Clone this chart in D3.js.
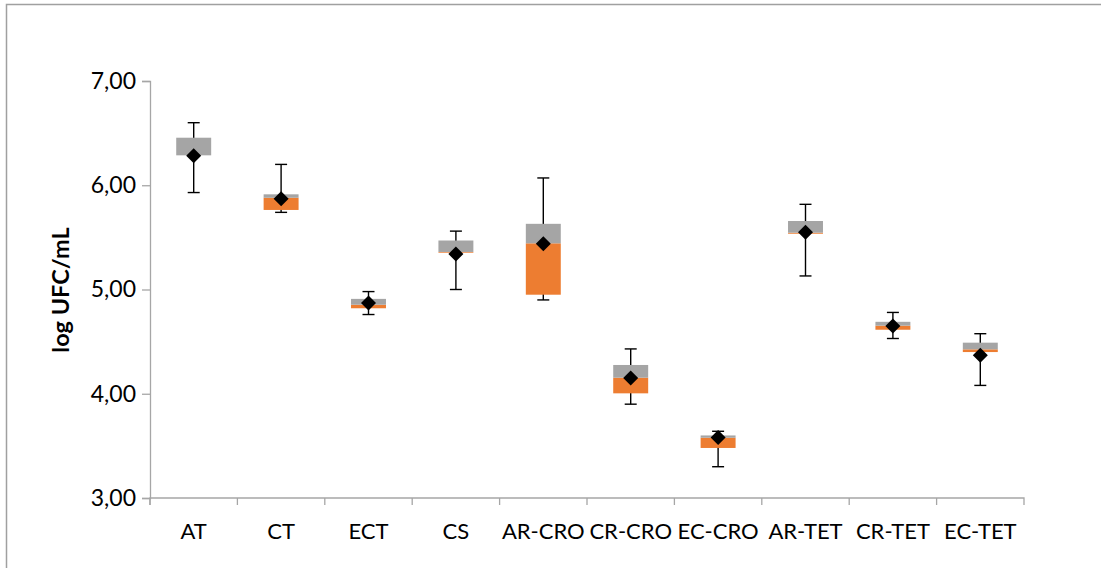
<!DOCTYPE html>
<html><head><meta charset="utf-8">
<script src="https://cdn.jsdelivr.net/npm/d3@7"></script>
<style>body{margin:0;background:#fff;}svg{display:block;}text{font-family:Lato,"Open Sans",sans-serif;}</style>
</head><body><svg id="c" width="1101" height="568"></svg>
<script>
const categories = ["AT","CT","ECT","CS","AR-CRO","CR-CRO","EC-CRO","AR-TET","CR-TET","EC-TET"];
const whiskerLow  = [5.93, 5.74, 4.76, 5.00, 4.90, 3.90, 3.30, 5.13, 4.53, 4.08];
const q1          = [6.287,5.763,4.82, 5.353,4.95, 4.004,3.48, 5.535,4.614,4.40];
const median      = [6.287,5.88, 4.854,5.36, 5.443,4.154,3.578,5.545,4.653,4.426];
const q3          = [6.456,5.913,4.91, 5.47, 5.63, 4.276,3.60, 5.657,4.69, 4.49];
const whiskerHigh = [6.60, 6.20, 4.98, 5.56, 6.07, 4.43, 3.64, 5.817,4.78, 4.576];
const means       = [6.283,5.87, 4.87, 5.34, 5.44, 4.15, 3.58, 5.55, 4.65, 4.37];
const yTicks = [3,4,5,6,7];

const svg = d3.select("#c");
const m = {left:150, right:1024, top:81, bottom:498};
svg.append("rect").attr("x",6.5).attr("y",4.5).attr("width",1200).attr("height",700)
  .attr("fill","none").attr("stroke","#a0a0a0").attr("stroke-width",1.5);

const x = d3.scaleBand().domain(categories).range([m.left,m.right]).paddingInner(0).paddingOuter(0);
const y = d3.scaleLinear().domain([3,7]).range([m.bottom,m.top]);
const fmt = v => d3.format(".2f")(v).replace(".",",");

// y axis
const ya = svg.append("g").attr("transform",`translate(${m.left},0)`)
  .call(d3.axisLeft(y).tickValues(yTicks).tickFormat(fmt).tickSize(8).tickPadding(6));
ya.attr("font-family",null).attr("font-size",null);
ya.select(".domain").attr("stroke","#a6a6a6").attr("stroke-width",1.3);
ya.selectAll(".tick line").attr("stroke","#a6a6a6").attr("stroke-width",1.3);
ya.selectAll("text").attr("font-size",23).attr("fill","#000");

// x axis
const xa = svg.append("g").attr("transform",`translate(0,${m.bottom})`)
  .call(d3.axisBottom(x).tickSize(0).tickPadding(25));
xa.attr("font-family",null).attr("font-size",null);
xa.select(".domain").attr("stroke","#a6a6a6").attr("stroke-width",1.3).attr("d",`M${m.left},7V0H${m.right}V7`);
xa.selectAll("text").attr("font-size",22).attr("fill","#000");
xa.selectAll(".tick line").remove();
svg.append("g").selectAll("line").data(categories).join("line")
  .attr("x1",d=>x(d)).attr("x2",d=>x(d)).attr("y1",m.bottom).attr("y2",m.bottom+7)
  .attr("stroke","#a6a6a6").attr("stroke-width",1.3);

svg.append("text").attr("transform",`translate(69,${290}) rotate(-90)`)
  .attr("text-anchor","middle").attr("font-size",23.5).attr("font-weight","bold").text("log UFC/mL");

const bw = x.bandwidth()*0.4;
const g = svg.append("g");
categories.forEach((c,i)=>{
  const cx = x(c)+x.bandwidth()/2;
  g.append("line").attr("x1",cx).attr("x2",cx).attr("y1",y(whiskerLow[i])).attr("y2",y(whiskerHigh[i]))
    .attr("stroke","#000").attr("stroke-width",1.4);
  [whiskerLow[i],whiskerHigh[i]].forEach(v=>{
    g.append("line").attr("x1",cx-6).attr("x2",cx+6).attr("y1",y(v)).attr("y2",y(v))
      .attr("stroke","#000").attr("stroke-width",1.4);
  });
});
const bx = svg.append("g");
categories.forEach((c,i)=>{
  const cx = x(c)+x.bandwidth()/2;
  bx.append("rect").attr("x",cx-bw/2).attr("width",bw)
    .attr("y",y(median[i])).attr("height",y(q1[i])-y(median[i])).attr("fill","#ED7D31");
  bx.append("rect").attr("x",cx-bw/2).attr("width",bw)
    .attr("y",y(q3[i])).attr("height",y(median[i])-y(q3[i])).attr("fill","#A5A5A5");
});
svg.append("g").selectAll("path").data(categories).join("path")
  .attr("transform",(d,i)=>`translate(${x(d)+x.bandwidth()/2},${y(means[i])})`)
  .attr("d","M0,-7.5L7.5,0L0,7.5L-7.5,0Z")
  .attr("fill","#000");
</script></body></html>
